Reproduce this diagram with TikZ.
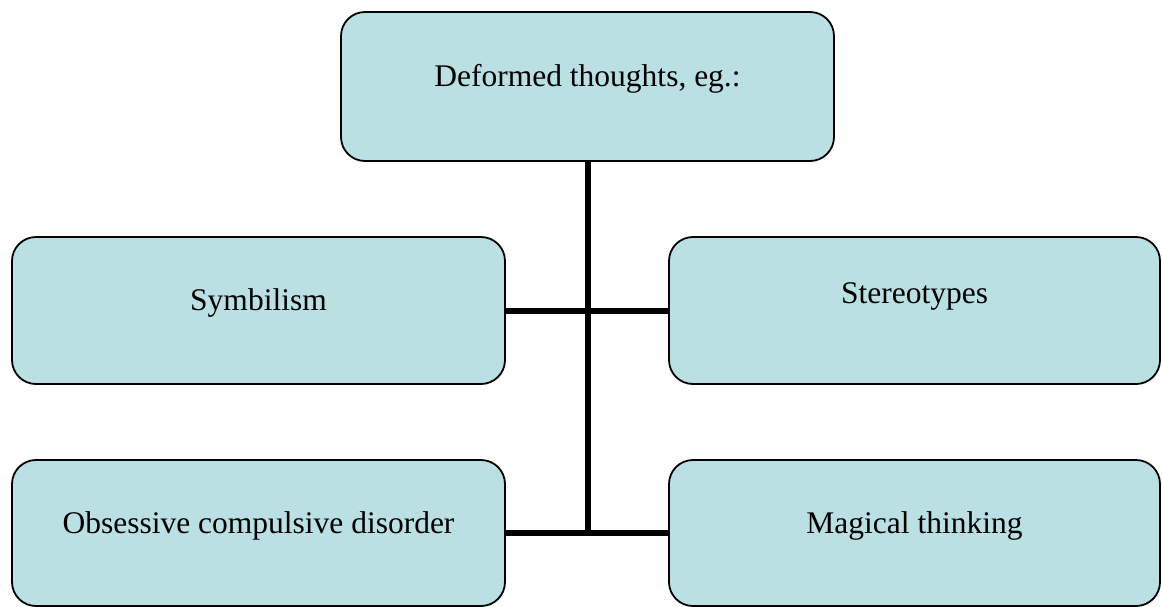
\documentclass[tikz,border=0pt]{standalone}
\usepackage{fontspec}
\setmainfont{Liberation Serif}
\definecolor{boxblue}{RGB}{187,224,227}
\tikzset{
    thoughtbox/.style={draw=black, fill=boxblue, line width=1.8pt, rounded corners=24pt,
        minimum width=#1, minimum height=147pt, inner sep=0pt,
        text height=0pt, text depth=0pt, font=\fontsize{31.5}{38}\selectfont},
    thoughtbox/.default=493pt,
    raised/.style={text depth=15pt},
    link/.style={line width=6pt, black}
}
\begin{document}
\begin{tikzpicture}[x=1pt,y=-1pt]
            \useasboundingbox (0,0) rectangle (1162,606);
            \node[thoughtbox, minimum height=149pt] (deformed) at (587.5, 86.5) {Deformed thoughts, eg.:};
            \node[thoughtbox] (symbol) at (258.5, 310.5) {Symbilism};
            \node[thoughtbox=491pt, raised] (stereo) at (914.5, 310.5) {Stereotypes};
            \node[thoughtbox, minimum height=146pt] (ocd) at (258.5, 533) {Obsessive compulsive disorder};
            \node[thoughtbox=491pt, minimum height=146pt] (magic) at (914.5, 533) {Magical thinking};

            \draw[link, shorten >=-3pt] (deformed.south) -- (deformed.south |- ocd.east);
            \draw[link] (symbol.east) -- (stereo.west);
            \draw[link] (ocd.east) -- (magic.west);
        \end{tikzpicture}
\end{document}
